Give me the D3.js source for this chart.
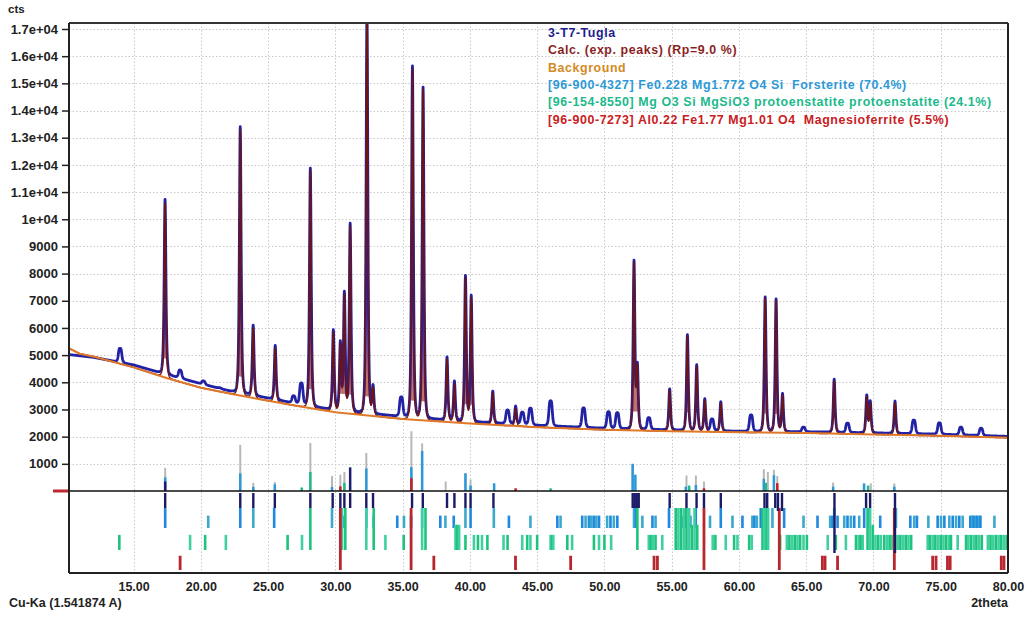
<!DOCTYPE html>
<html><head><meta charset="utf-8">
<script src="https://cdn.jsdelivr.net/npm/d3@7"></script>
<style>
body{margin:0;background:#fff;}
text{font-family:"Liberation Sans",Arial,sans-serif;font-weight:bold;}
</style></head><body>
<svg id="c" width="1026" height="617"></svg>
<script>
// ---------------- DATA ----------------
const yTickValues = [1000,2000,3000,4000,5000,6000,7000,8000,9000,10000,11000,12000,13000,14000,15000,16000,17000];
const yTickLabels = ["1000","2000","3000","4000","5000","6000","7000","8000","9000","1e+04","1.1e+04","1.2e+04","1.3e+04","1.4e+04","1.5e+04","1.6e+04","1.7e+04"];
const xTickValues = [15,20,25,30,35,40,45,50,55,60,65,70,75,80];
const xTickLabels = ["15.00","20.00","25.00","30.00","35.00","40.00","45.00","50.00","55.00","60.00","65.00","70.00","75.00","80.00"];

const legendLabels = ["3-T7-Tugla","Calc. (exp. peaks) (Rp=9.0 %)","Background",
  "[96-900-4327] Fe0.228 Mg1.772 O4 Si  Forsterite (70.4%)",
  "[96-154-8550] Mg O3 Si MgSiO3 protoenstatite protoenstatite (24.1%)",
  "[96-900-7273] Al0.22 Fe1.77 Mg1.01 O4  Magnesioferrite (5.5%)"];
const legendColors = ["#1c1c8c","#8b1f1f","#d48a22","#2c98d8","#20b98c","#c8201e"];

// background (orange)
const bgTheta  = [10.2, 11, 12, 15, 17.5, 20, 22.5, 25, 27.5, 30, 35, 40, 45, 50, 55, 60, 65, 70, 75, 80];
const bgCounts = [5250, 5050, 4950, 4550, 4150, 3800, 3550, 3320, 3100, 2900, 2650, 2480, 2350, 2250, 2200, 2160, 2130, 2080, 2030, 1960];
// observed baseline level (blue band centre)
const obsTheta  = [10.2, 12, 15, 17, 20, 22, 25, 27.5, 30, 35, 40, 45, 50, 55, 60, 65, 70, 75, 80];
const obsCounts = [5020, 4920, 4640, 4350, 3950, 3700, 3420, 3180, 2980, 2740, 2560, 2420, 2310, 2250, 2200, 2180, 2140, 2090, 2010];

// peaks (apex counts)
const peakTheta  = [17.34, 22.93, 23.89, 25.53, 28.14, 29.85, 30.37, 30.67, 31.10, 32.35, 32.80, 35.73, 36.52, 38.30, 38.85, 39.67, 40.10, 41.70, 43.40, 52.20, 52.45, 54.85, 56.17, 56.86, 57.46, 58.65, 61.95, 62.76, 63.24, 67.08, 69.50, 69.76, 71.60];
const peakCounts = [10600, 13300, 6000, 5260, 11800, 5850, 5370, 7200, 9750, 17600, 3780, 15550, 14770, 4850, 3960, 7830, 7100, 3600, 3050, 8370, 4500, 3710, 5700, 4600, 3350, 3240, 7100, 7020, 3530, 4060, 3450, 3230, 3250];
// small observed-only humps
const bumpTheta  = [14.0, 18.46, 20.2, 21.4, 26.9, 27.47, 34.9, 42.8, 43.9, 44.5, 46.0, 48.45, 50.3, 50.96, 53.3, 58.0, 60.9, 64.8, 68.07, 73.0, 74.9, 76.5, 78.0];
const bumpCounts = [5250, 4450, 4050, 3800, 3500, 3970, 3460, 2980, 2900, 3050, 3320, 3060, 2920, 2880, 2700, 2650, 2800, 2350, 2500, 2610, 2510, 2350, 2310];

// stick pattern above zero line
const greyTheta  = [17.35, 22.93, 23.9, 25.5, 28.14, 29.75, 30.37, 30.67, 32.3, 35.65, 36.45, 38.2, 39.67, 40.05, 41.8, 52.1, 56.1, 56.8, 57.4, 61.85, 62.15, 62.6, 62.85, 67.0, 69.8, 71.55];
const greyCounts = [850, 1700, 300, 330, 1770, 550, 600, 700, 1400, 2200, 1750, 350, 650, 420, 280, 1000, 570, 570, 350, 800, 700, 780, 550, 310, 280, 280];
const forstProfTheta  = [17.35, 22.93, 23.9, 25.5, 29.75, 32.3, 35.65, 36.45, 39.67, 40.05, 41.8, 52.1, 52.3, 56.05, 56.8, 61.85, 62.6, 67.0, 69.3, 71.55];
const forstProfCounts = [500, 650, 150, 250, 150, 830, 880, 1470, 650, 200, 280, 1000, 600, 160, 220, 450, 580, 160, 280, 160];
const protoProfTheta  = [27.5, 28.14, 30.67, 46.0, 56.3, 62.0, 69.6];
const protoProfCounts = [130, 700, 300, 100, 200, 300, 200];
const magnProfTheta   = [30.37, 35.65, 43.4, 57.4, 62.85];
const magnProfCounts  = [170, 470, 100, 100, 290];
const navyProfTheta   = [31.1, 17.35];
const navyProfCounts  = [870, 350];

// peak-marker rows below zero line
const markTheta = [17.35, 22.93, 23.9, 25.5, 28.14, 29.8, 30.37, 30.67, 31.1, 32.3, 32.8, 35.7, 36.5, 38.3, 38.85, 39.67, 40.05, 41.75, 52.1, 52.25, 52.4, 52.55, 54.85, 56.1, 56.85, 57.4, 58.65, 61.9, 62.1, 62.7, 62.9, 63.2, 67.1, 69.45, 69.75, 71.6];
const markInt   = [25, 25, 25, 25, 25, 25, 25, 25, 25, 25, 25, 25, 25, 25, 25, 25, 25, 25, 25, 25, 25, 25, 25, 25, 25, 25, 25, 25, 25, 25, 30, 30, 100, 25, 25, 100];

const forstTheta = [17.35, 20.55, 22.93, 23.9, 25.45, 29.75, 30.4, 30.6, 32.3, 32.85, 34.6, 35.1, 35.63, 36.45, 37.8, 38.18, 38.8, 39.67, 40.05, 41.78, 42.9, 44.5, 46.5, 46.74, 48.35, 48.6, 48.85, 49.0, 49.2, 49.4, 49.6, 50.2, 50.45, 50.7, 50.96, 52.2, 52.35, 52.82, 53.57, 53.8, 54.8, 55.8, 56.04, 56.4, 56.79, 57.85, 58.65, 59.52, 60.26, 61.0, 61.15, 61.33, 61.62, 62.49, 63.36, 64.8, 65.84, 66.78, 66.95, 67.08, 67.33, 67.83, 68.07, 68.32, 68.57, 68.94, 69.31, 69.69, 70.5, 71.67, 72.74, 73.03, 73.23, 74.08, 74.77, 75.02, 75.27, 75.64, 75.89, 76.14, 76.38, 76.63, 77.2, 77.35, 77.45, 77.6, 77.7, 77.85, 77.95, 78.99];
const forstInt   = [100, 62, 100, 100, 100, 100, 62, 62, 100, 62, 62, 62, 62, 100, 62, 62, 62, 100, 100, 100, 62, 62, 62, 62, 62, 62, 62, 62, 62, 62, 62, 62, 62, 62, 62, 100, 100, 62, 62, 62, 100, 62, 100, 62, 100, 62, 100, 62, 62, 62, 62, 62, 100, 100, 100, 62, 62, 62, 62, 100, 62, 62, 62, 62, 62, 62, 100, 100, 62, 100, 62, 62, 62, 62, 62, 62, 62, 62, 62, 62, 62, 62, 62, 62, 62, 62, 62, 62, 62, 62];

const protoTheta = [13.94, 19.2, 20.32, 21.86, 26.45, 27.52, 28.14, 30.5, 30.74, 32.3, 32.85, 33.72, 35.08, 36.45, 36.7, 38.93, 39.05, 39.2, 39.67, 40.3, 40.6, 40.9, 41.3, 42.5, 42.8, 43.89, 44.26, 44.5, 45.0, 46.0, 46.1, 46.2, 47.24, 47.6, 49.22, 49.6, 50.0, 50.5, 52.45, 53.3, 53.45, 53.6, 53.8, 54.3, 55.3, 55.5, 55.7, 55.9, 56.1, 56.3, 56.5, 56.7, 56.9, 58.05, 58.25, 59.02, 59.64, 59.89, 60.76, 60.95, 61.75, 61.9, 62.05, 62.17, 63.06, 63.56, 63.75, 63.95, 64.15, 64.35, 64.55, 64.8, 65.05, 66.6, 67.2, 67.95, 68.7, 68.9, 69.05, 69.2, 69.56, 69.75, 69.95, 70.15, 70.35, 70.55, 70.8, 71.0, 71.2, 71.4, 71.6, 71.8, 72.0, 72.2, 72.4, 72.6, 72.8, 74.03, 74.2, 74.4, 74.6, 74.8, 75.0, 75.2, 75.4, 75.6, 75.76, 76.26, 76.88, 77.05, 77.25, 77.45, 77.65, 77.85, 78.05, 78.5, 78.7, 78.9, 79.1, 79.3, 79.5, 79.7, 79.9];
const protoInt   = [36, 36, 36, 36, 36, 36, 100, 100, 100, 100, 100, 36, 36, 100, 100, 60, 60, 60, 36, 36, 36, 36, 36, 36, 36, 36, 36, 36, 36, 36, 36, 36, 36, 36, 36, 36, 36, 36, 100, 36, 36, 36, 36, 36, 100, 100, 100, 100, 100, 100, 60, 100, 60, 36, 36, 36, 36, 36, 36, 36, 100, 100, 100, 100, 36, 36, 36, 36, 36, 36, 36, 36, 36, 36, 36, 36, 36, 36, 36, 36, 100, 100, 60, 36, 36, 36, 36, 36, 36, 36, 36, 36, 36, 36, 36, 36, 36, 36, 36, 36, 36, 36, 36, 36, 36, 36, 36, 36, 36, 36, 36, 36, 36, 36, 36, 36, 36, 36, 36, 36, 36, 36, 36];

const magnTheta = [18.46, 30.37, 35.63, 37.32, 43.39, 47.49, 53.69, 53.94, 57.4, 63.0, 66.2, 66.4, 67.33, 71.55, 74.4, 74.65, 75.5, 75.7, 79.5, 79.7];
const magnInt   = [23, 100, 100, 23, 23, 23, 23, 23, 100, 100, 23, 23, 23, 100, 23, 23, 23, 23, 23, 23];

// ---------------- CHART ----------------
const svg = d3.select("#c");
const L = 69, R = 1008, T = 23, B = 573;
const x = d3.scaleLinear().domain([10.2, 80]).range([L, R]);
const y = d3.scaleLinear().domain([0, 17000]).range([491, 29]);

svg.append("defs").append("clipPath").attr("id","clip")
  .append("rect").attr("x",L).attr("y",T).attr("width",R-L).attr("height",B-T);

// grid
const grid = svg.append("g").attr("stroke","#c9c9c9").attr("stroke-width",1).attr("stroke-dasharray","1.5,2");
grid.selectAll(".h").data(yTickValues).join("line")
  .attr("x1",L).attr("x2",R).attr("y1",d=>Math.round(y(d))+0.5).attr("y2",d=>Math.round(y(d))+0.5);
grid.selectAll(".v").data(xTickValues.filter(d=>d<80)).join("line")
  .attr("y1",T).attr("y2",B).attr("x1",d=>Math.round(x(d))+0.5).attr("x2",d=>Math.round(x(d))+0.5);

// profiles
const bgScale  = d3.scaleLinear().domain(bgTheta).range(bgCounts);
const obsScale = d3.scaleLinear().domain(obsTheta).range(obsCounts);
const W = 0.115, WB = 0.14, FILL_FROM = 700;
const netPeak = peakTheta.map((p,i)=>peakCounts[i]-bgScale(p));
const netBump = bumpTheta.map((p,i)=>bumpCounts[i]-obsScale(p));
const grid2t = d3.range(10.2, 80.0001, 0.01);
function peakSum(t){
  let s=0;
  for(let i=0;i<peakTheta.length;i++){const u=(t-peakTheta[i])/W; const v=1+u*u; s+=netPeak[i]/(v*v);}
  return s;
}
function bumpSum(t){
  let s=0;
  for(let i=0;i<bumpTheta.length;i++){const u=(t-bumpTheta[i])/WB; s+=netBump[i]/(1+u*u*u*u);}
  return s;
}
const calcPts = grid2t.map(t=>[t, bgScale(t)+peakSum(t)]);
const obsPts  = grid2t.map(t=>[t, obsScale(t)+peakSum(t)+bumpSum(t)]);
const line = d3.line().x(d=>x(d[0])).y(d=>y(d[1]));
const area = d3.area().x(d=>x(d[0]))
  .y0(d=>y(bgScale(d[0])+FILL_FROM))
  .y1(d=>y(Math.max(d[1], bgScale(d[0])+FILL_FROM)));

const plot = svg.append("g").attr("clip-path","url(#clip)");
plot.append("path").datum(calcPts).attr("d",area).attr("fill","#b8574c").attr("opacity",0.85);
plot.append("path").datum(obsPts).attr("d",line).attr("fill","none")
  .attr("stroke","#2222a4").attr("stroke-width",2.8).attr("stroke-linejoin","round");
plot.append("path").datum(calcPts).attr("d",line).attr("fill","none")
  .attr("stroke","#6e1414").attr("stroke-width",1.5).attr("stroke-linejoin","round");
plot.append("path").datum(bgTheta.map((t,i)=>[t,bgCounts[i]])).attr("d",line).attr("fill","none")
  .attr("stroke","#e07a2a").attr("stroke-width",2);

// stick pattern above zero
function sticks(th, ct, color, w){
  plot.append("g").selectAll("rect").data(th).join("rect")
    .attr("x",(d)=>x(d)-w/2).attr("width",w)
    .attr("y",(d,i)=>y(ct[i])).attr("height",(d,i)=>y(0)-y(ct[i]))
    .attr("fill",color);
}
sticks(greyTheta, greyCounts, "#b8b8b8", 2);
sticks(forstProfTheta, forstProfCounts, "#2c98d8", 2.5);
sticks(protoProfTheta, protoProfCounts, "#20b98c", 2.5);
sticks(magnProfTheta, magnProfCounts, "#c8201e", 2.5);
sticks(navyProfTheta, navyProfCounts, "#1c1c70", 2.5);

// zero line
svg.append("line").attr("x1",L).attr("x2",R).attr("y1",y(0)).attr("y2",y(0))
  .attr("stroke","#111").attr("stroke-width",1.5);
svg.append("line").attr("x1",53).attr("x2",L).attr("y1",y(0)).attr("y2",y(0))
  .attr("stroke","#c0272d").attr("stroke-width",3);

// marker rows
function rowSticks(th, it, bottom, reach, colors, w){
  const h = d3.scaleLinear().domain([0,100]).range([0,reach]);
  plot.append("g").selectAll("rect").data(th).join("rect")
    .attr("x",d=>x(d)-w/2).attr("width",w)
    .attr("y",(d,i)=>bottom-h(it[i])).attr("height",(d,i)=>h(it[i]))
    .attr("fill",(d,i)=>colors[i%colors.length]);
}
rowSticks(forstTheta, forstInt, 528, 20, ["#2088de","#3aa9cc"], 2.6);
rowSticks(protoTheta, protoInt, 550, 42, ["#1ec47c","#3fcfa0"], 2.6);
rowSticks(magnTheta, magnInt, 570, 62, ["#b8262e"], 2.8);
// navy marks hang from top of marker area
const mh = d3.scaleLinear().domain([0,100]).range([0,60]);
plot.append("g").selectAll("rect").data(markTheta).join("rect")
  .attr("x",d=>x(d)-1.2).attr("width",2.4)
  .attr("y",493).attr("height",(d,i)=>mh(markInt[i]))
  .attr("fill","#1a1a66");

// frame
const fr = svg.append("g").attr("stroke","#222").attr("fill","none");
fr.append("line").attr("x1",L).attr("x2",R).attr("y1",T).attr("y2",T).attr("stroke-width",2.2).attr("stroke","#333");
fr.append("line").attr("x1",L).attr("x2",L).attr("y1",T).attr("y2",B).attr("stroke-width",2);
fr.append("line").attr("x1",L).attr("x2",R).attr("y1",B).attr("y2",B).attr("stroke-width",2);
fr.append("line").attr("x1",R).attr("x2",R).attr("y1",T).attr("y2",B).attr("stroke-width",2);

// y axis
const yAxis = d3.axisLeft(y).tickValues(yTickValues).tickSize(7).tickPadding(4)
  .tickFormat((d,i)=>yTickLabels[i]);
const ya = svg.append("g").attr("transform",`translate(${L},0)`).call(yAxis);
ya.select(".domain").remove();
ya.selectAll(".tick line").attr("stroke","#222").attr("stroke-width",1.5);
ya.selectAll(".tick text").attr("font-size",13).attr("fill","#222")
  .attr("font-family","Liberation Sans, Arial, sans-serif").attr("font-weight","bold");

// x axis
const xAxis = d3.axisBottom(x).tickValues(xTickValues).tickSize(0).tickPadding(9)
  .tickFormat((d,i)=>xTickLabels[i]);
const xa = svg.append("g").attr("transform",`translate(0,${B})`).call(xAxis);
xa.select(".domain").remove();
xa.selectAll(".tick text").attr("font-size",12.5).attr("fill","#222")
  .attr("font-family","Liberation Sans, Arial, sans-serif").attr("font-weight","bold");

// titles
svg.append("text").attr("x",8).attr("y",13).attr("font-size",11.5).attr("fill","#222").text("cts");
svg.append("text").attr("x",9).attr("y",607).attr("font-size",12.5).attr("fill","#222").text("Cu-Ka (1.541874 A)");
svg.append("text").attr("x",1008).attr("y",607).attr("text-anchor","end").attr("font-size",12.5).attr("fill","#222").text("2theta");

// legend
svg.append("g").selectAll("text").data(legendLabels).join("text")
  .attr("x",548).attr("y",(d,i)=>37+i*17.3)
  .attr("font-size",12.4).attr("letter-spacing","0.6px").attr("fill",(d,i)=>legendColors[i])
  .attr("xml:space","preserve").style("white-space","pre").text(d=>d);
</script>
</body></html>
